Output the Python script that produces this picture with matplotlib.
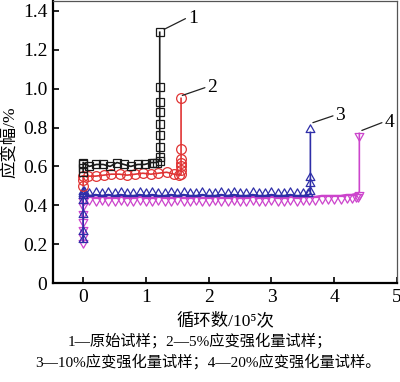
import numpy as np
import matplotlib.pyplot as plt
from matplotlib.path import Path

# cycles (10^5) and strain amplitude (%)
x1 = [0, 0, 0, 0, 0.1, 0.21, 0.32, 0.43, 0.54, 0.65, 0.76, 0.87, 0.98, 1.09, 1.13, 1.17,
      1.22, 1.22, 1.22, 1.22, 1.22, 1.22, 1.22, 1.22, 1.22]
y1 = [0.57, 0.59, 0.61, 0.62, 0.60, 0.61, 0.61, 0.60, 0.62, 0.61, 0.60, 0.61, 0.61, 0.62, 0.62, 0.62,
      0.63, 0.65, 0.70, 0.76, 0.82, 0.88, 0.93, 1.01, 1.29]

x2 = [0, 0, 0, 0.08, 0.2, 0.33, 0.45, 0.58, 0.7, 0.83, 0.95, 1.08, 1.2, 1.33, 1.45, 1.52,
      1.56, 1.56, 1.56, 1.56, 1.56, 1.56, 1.56]
y2 = [0.50, 0.53, 0.55, 0.55, 0.55, 0.555, 0.56, 0.56, 0.555, 0.56, 0.565, 0.56, 0.565, 0.57, 0.56, 0.555,
      0.56, 0.58, 0.60, 0.62, 0.64, 0.69, 0.95]

x3 = [0, 0, 0, 0, 0, 0, 0, 0.02,
      0.1, 0.2, 0.3, 0.4, 0.5, 0.6, 0.7, 0.8, 0.9, 1.0, 1.1, 1.2, 1.3, 1.4, 1.5, 1.6, 1.7, 1.8,
      1.9, 2.0, 2.1, 2.2, 2.3, 2.4, 2.5, 2.6, 2.7, 2.8, 2.9, 3.0, 3.1, 3.2, 3.3, 3.4, 3.5, 3.58,
      3.62, 3.62, 3.62, 3.62]
y3 = [0.21, 0.25, 0.34, 0.41, 0.44, 0.45, 0.46, 0.46,
      0.45, 0.455, 0.45, 0.455, 0.45, 0.455, 0.45, 0.45, 0.455, 0.45, 0.455, 0.45, 0.45, 0.455, 0.45, 0.455, 0.45, 0.45,
      0.455, 0.45, 0.45, 0.455, 0.45, 0.455, 0.45, 0.45, 0.455, 0.45, 0.45, 0.455, 0.45, 0.45, 0.455, 0.45, 0.45, 0.45,
      0.46, 0.50, 0.53, 0.775]

x4 = [0, 0, 0, 0, 0, 0, 0, 0.02,
      0.1, 0.2, 0.3, 0.4, 0.5, 0.6, 0.7, 0.8, 0.9, 1.0, 1.1, 1.2, 1.3, 1.4, 1.5, 1.6, 1.7, 1.8,
      1.9, 2.0, 2.1, 2.2, 2.3, 2.4, 2.5, 2.6, 2.7, 2.8, 2.9, 3.0, 3.1, 3.2, 3.3, 3.4, 3.5, 3.6,
      3.7, 3.8, 3.9, 4.0, 4.1, 4.2, 4.28, 4.34, 4.38, 4.4, 4.4]
y4 = [0.22, 0.25, 0.29, 0.33, 0.37, 0.41, 0.44, 0.445,
      0.445, 0.44, 0.445, 0.44, 0.44, 0.445, 0.44, 0.44, 0.445, 0.44, 0.44, 0.445, 0.44, 0.44, 0.445, 0.44, 0.44, 0.445,
      0.44, 0.44, 0.445, 0.44, 0.44, 0.445, 0.44, 0.44, 0.445, 0.44, 0.44, 0.445, 0.44, 0.44, 0.445, 0.44, 0.445, 0.445,
      0.445, 0.45, 0.45, 0.45, 0.45, 0.455, 0.455, 0.46, 0.46, 0.47, 0.77]

labels = ['1', '2', '3', '4']
caption1 = '1—原始试样；2—5%应变强化量试样；'
caption2 = '3—10%应变强化量试样；4—20%应变强化量试样。'

serif = ['Liberation Serif', 'Noto Sans CJK SC', 'DejaVu Serif']
plt.rcParams['font.family'] = serif

# Origin style triangles: data point sits on the base / top edge
tri_up = Path([(-1, 0), (1, 0), (0, 1.75), (-1, 0)], [1, 2, 2, 79])
tri_dn = Path([(-1, 0), (1, 0), (0, -1.75), (-1, 0)], [1, 2, 2, 79])

fig = plt.figure(figsize=(4, 3.82), dpi=100)
ax = fig.add_axes([0.1325, 0.259, 0.86, 0.738])

c1, c2, c3, c4 = '#1a1a1a', '#e03434', '#2e2ea8', '#cc44cc'
ax.plot(x4, y4, color=c4, lw=1.2, marker=tri_dn, ms=11, mfc='none', mew=0.9)
ax.plot(x3, y3, color=c3, lw=1.2, marker=tri_up, ms=11, mfc='none', mew=0.9)
ax.plot(x2, y2, color=c2, lw=1.2, marker='o', ms=7, mfc='none', mew=0.9)
ax.plot(x1, y1, color=c1, lw=1.2, marker='s', ms=6, mfc='none', mew=0.9)

ann = [((1.29, 1.305), (1.63, 1.36)),
       ((1.58, 0.965), (1.94, 1.005)),
       ((3.66, 0.825), (3.98, 0.86)),
       ((4.44, 0.785), (4.76, 0.825))]
for lab, (p, t) in zip(labels, ann):
    ax.annotate('', xy=p, xytext=t, arrowprops=dict(arrowstyle='-', color='#222', lw=0.9,
                                                      shrinkA=0, shrinkB=0))
    ax.text(t[0] + 0.04, t[1], lab, fontsize=14, va='center', ha='left')

ax.set_xlim(-0.48, 5)
ax.set_ylim(0, 1.45)
ax.set_xticks([0, 1, 2, 3, 4, 5])
ax.set_yticks([0, 0.2, 0.4, 0.6, 0.8, 1.0, 1.2, 1.4])
ax.set_yticklabels(['0', '0.2', '0.4', '0.6', '0.8', '1.0', '1.2', '1.4'])
ax.tick_params(direction='in', labelsize=14, length=4, width=1.2, pad=4)
for s in ['left', 'bottom']:
    ax.spines[s].set_linewidth(1.6)
for s in ['top', 'right']:
    ax.spines[s].set_linewidth(0.9)
    ax.spines[s].set_color('#555')

ax.set_ylabel('应变幅/%', fontsize=12.5)
ax.set_xlabel('循环数/10⁵次', fontsize=12.5)
ax.yaxis.set_label_coords(-0.1, 0.5)
ax.xaxis.set_label_coords(0.5, -0.105)

fig.text(0.5, 0.107, caption1, ha='center', va='center', fontsize=11)
fig.text(0.52, 0.052, caption2, ha='center', va='center', fontsize=11)

fig.savefig('out.png', dpi=100)
